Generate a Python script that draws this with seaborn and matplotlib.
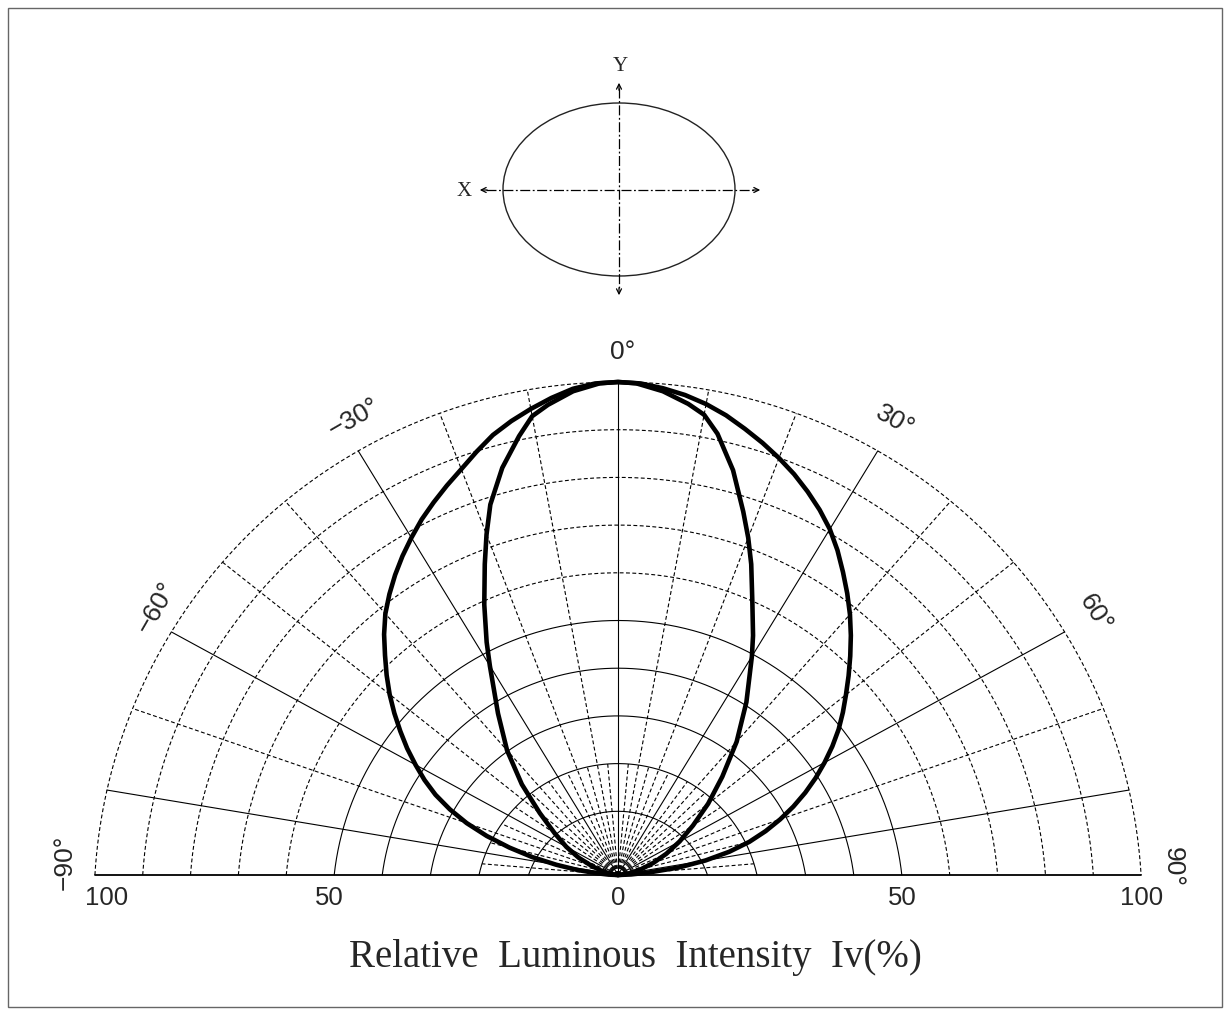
import numpy as np
import pandas as pd
import matplotlib
matplotlib.use("Agg")
import matplotlib.pyplot as plt
import seaborn as sns
from matplotlib.patches import Ellipse, Rectangle

# ---- data (angle in degrees, relative intensity in %) ----
outer_angle = [-90, -87.5, -85, -82.5, -80, -77.5, -75, -72.5, -70, -67.5, -65, -62.5,
               -60, -57.5, -55, -52.5, -50, -47.5, -45, -42.5, -40, -37.5, -35, -32.5,
               -30, -27.5, -25, -22.5, -20, -17.5, -15, -12.5, -10, -7.5, -5, -2.5, 0,
               2.5, 5, 7.5, 10, 12.5, 15, 17.5, 20, 22.5, 25, 27.5, 30, 32.5, 35, 37.5,
               40, 42.5, 45, 47.5, 50, 52.5, 55, 57.5, 60, 62.5, 65, 67.5, 70, 72.5, 75,
               77.5, 80, 82.5, 85, 87.5, 90]
outer_iv = [0, 1.8, 4.0, 7.8, 12.0, 16.8, 21.5, 26.3, 30.8, 34.8, 38.5, 41.7,
            44.7, 47.8, 50.8, 53.9, 57.0, 60.0, 63.0, 66.2, 69.2, 71.8, 74.3, 76.7,
            79.0, 81.3, 83.4, 85.5, 87.6, 90.0, 92.4, 94.3, 96.0, 97.6, 99.0, 99.8, 100,
            99.8, 99.1, 98.2, 97.0, 95.5, 93.7, 91.9, 90.0, 88.0, 85.8, 83.5, 81.0, 78.1,
            75.0, 72.0, 69.0, 65.9, 62.8, 59.8, 56.9, 54.2, 51.5, 48.6, 45.6, 42.6, 39.5,
            36.3, 33.0, 29.6, 26.0, 21.8, 17.0, 11.8, 6.0, 2.5, 0]

inner_angle = [-90, -85, -80, -75, -70, -65, -60, -55, -50, -45, -40, -35, -30, -28, -25,
               -22, -20, -18, -15, -12, -10, -8, -5, -2, 0, 2, 5, 8, 10, 12, 15, 18, 20,
               22, 25, 28, 30, 35, 40, 45, 50, 55, 60, 65, 70, 75, 80, 85, 90]
inner_iv = [0, 0.5, 1.5, 3.2, 5.3, 8.3, 11.4, 14.8, 19.5, 26.0, 33.0, 40.0, 49.0, 53.5,
            60.5, 68.0, 73.5, 79.0, 85.5, 91.0, 94.5, 96.3, 98.5, 99.8, 100, 99.8, 98.5,
            96.5, 94.8, 91.5, 85.0, 77.5, 72.8, 68.0, 60.8, 55.0, 51.2, 42.8, 35.3, 28.2,
            22.5, 17.5, 13.6, 10.2, 7.2, 4.6, 2.5, 1.0, 0]

ring_levels = [100, 90, 80, 70, 60, 50, 40, 30, 20, 10]
spoke_angles = list(range(-80, 81, 10))
solid_spokes = [-80, -60, -30, 0, 30, 60, 80]
fine_spokes = list(range(-85, 86, 10))
tick_values = [-100, -50, 0, 50, 100]
tick_labels = ["100", "50", "0", "50", "100"]
angle_labels = ["0°", "\u221230°", "30°", "\u221260°", "60°", "\u221290°", "90°"]
xlabel = "Relative  Luminous  Intensity  Iv(%)"

# ---- geometry of the drawing (pixels per unit, ring offset) ----
SX, SY = 5.23, 4.93
C = 31.0
R0, STEP = 524.0, 47.7


def ring_radius(level):
    return R0 - STEP * (100 - level) / 10


def ray_len(theta_deg, R):
    t = np.radians(theta_deg)
    a = (SX * np.sin(t)) ** 2 + (SY * np.cos(t)) ** 2
    b = 2 * SY * np.cos(t) * C
    c = C ** 2 - R ** 2
    return (-b + np.sqrt(b * b - 4 * a * c)) / (2 * a)


sns.set_style("white")
plt.rcParams["font.family"] = ["Liberation Sans", "DejaVu Sans"]

fig = plt.figure(figsize=(12.3, 10.15), dpi=100)
ax = fig.add_axes([0, 0, 1, 1])

dash = (0, (3.5, 2.2))

# rings
for lvl in ring_levels:
    R = ring_radius(lvl)
    pm = np.arccos(C / R)
    phi = np.linspace(-pm, pm, 500)
    ax.plot(R * np.sin(phi) / SX, (R * np.cos(phi) - C) / SY, color="black",
            lw=0.8, ls="-" if lvl <= 50 else dash)

# spokes
for ang in spoke_angles:
    r = ray_len(ang, R0)
    t = np.radians(ang)
    ax.plot([0, r * np.sin(t)], [0, r * np.cos(t)], color="black", lw=0.8,
            ls="-" if ang in solid_spokes else dash)
for ang in fine_spokes:
    r = ray_len(ang, ring_radius(20))
    t = np.radians(ang)
    ax.plot([0, r * np.sin(t)], [0, r * np.cos(t)], color="black", lw=0.8, ls=dash)

# baseline
xb = np.sqrt(R0 ** 2 - C ** 2) / SX
ax.plot([-xb, xb], [0, 0], color="black", lw=1.3)

# intensity curves
for ang, iv in [(outer_angle, outer_iv), (inner_angle, inner_iv)]:
    t = np.radians(ang)
    iv = np.asarray(iv)
    df = pd.DataFrame({"x": iv * np.sin(t), "y": iv * np.cos(t)})
    sns.lineplot(data=df, x="x", y="y", sort=False, color="black", lw=3.3, ax=ax,
                 estimator=None)
ax.set_xlim(-618 / SX, 612 / SX)
ax.set_ylim(-140 / SY, 875 / SY)
ax.axis("off")

# tick labels on the baseline (left "100" sits a little inside the end)
nudge = [2.3, -1.0, 0, 0, 0]
for v, lab, dx in zip(tick_values, tick_labels, nudge):
    if v == 0:
        xv = 0
    else:
        R = ring_radius(abs(v))
        xv = np.sign(v) * np.sqrt(R ** 2 - C ** 2) / SX
    ax.text(xv + dx, -4.6, lab, ha="center", va="center", fontsize=18.5)

# ---- overlay in pixel coordinates for labels and the small sketch ----
ov = fig.add_axes([0, 0, 1, 1])
ov.set_xlim(0, 1230)
ov.set_ylim(1015, 0)
ov.axis("off")

label_pos = [(623, 352, 0), (354, 418, 30), (895, 421, -30), (156, 608, 60),
             (1095, 613, -58), (65, 862, 90), (1173, 867, -90)]
for lab, (px, py, rot) in zip(angle_labels, label_pos):
    ov.text(px, py, lab, ha="center", va="center", rotation=rot, fontsize=19,
            rotation_mode="anchor")

ov.text(635, 957, xlabel, ha="center", va="center", fontsize=28,
        family=["Liberation Serif", "DejaVu Serif"])

# LED sketch
ov.add_patch(Ellipse((619, 189.5), 232, 173, fill=False, ec="#222222", lw=1))
dd = (0, (8, 2, 1.5, 2))
ov.plot([486, 754], [190, 190], color="black", lw=0.9, ls=dd)
ov.plot([619, 619], [88, 290], color="black", lw=0.9, ls=dd)
for tip, tail in [((477, 190), (490, 190)), ((763, 190), (750, 190)),
                  ((619, 80), (619, 93)), ((619, 298), (619, 285))]:
    ov.annotate("", xy=tip, xytext=tail,
                arrowprops=dict(arrowstyle="->", lw=0.9, color="black", mutation_scale=9))
ov.text(464, 191, "X", ha="center", va="center", fontsize=15,
        family=["Liberation Serif", "DejaVu Serif"])
ov.text(620, 66, "Y", ha="center", va="center", fontsize=15,
        family=["Liberation Serif", "DejaVu Serif"])

ov.add_patch(Rectangle((8, 8), 1214, 999, fill=False, ec="#666666", lw=1))

fig.savefig("out.png", dpi=100)
